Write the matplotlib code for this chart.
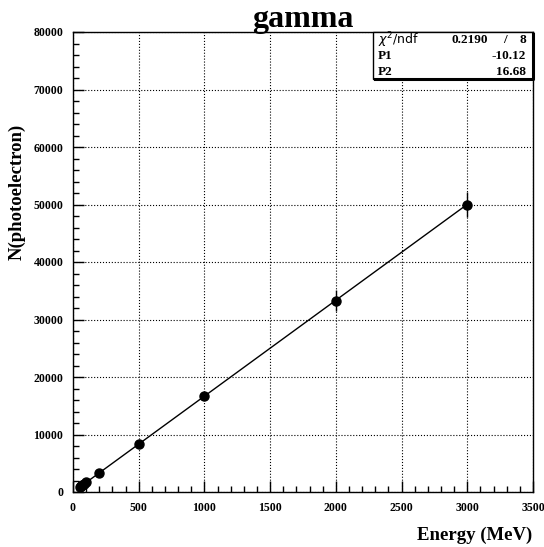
import matplotlib.pyplot as plt
import matplotlib.patches as patches
from matplotlib.ticker import MultipleLocator

# gamma response: energy (MeV) vs number of photoelectrons
energy = [50, 60, 70, 80, 100, 200, 500, 1000, 2000, 3000]
npe = [830, 990, 1160, 1330, 1660, 3330, 8330, 16680, 33300, 50000]
npe_err = [150, 160, 170, 180, 200, 260, 420, 700, 1800, 2250]

# fit result from the stats box
chi2, ndf = 0.2190, 8
p1, p2 = -10.12, 16.68

serif = "Liberation Serif"

fig = plt.figure(figsize=(5.44, 5.47), dpi=100)
ax = fig.add_axes([73 / 544, 1 - 492 / 547, 460 / 544, 460 / 547])

ax.grid(True, color="black", linestyle=":", linewidth=0.8)
ax.set_axisbelow(True)

ax.errorbar(energy, npe, yerr=npe_err, fmt="o", color="black", ms=6.5,
            elinewidth=1.0, capsize=0, zorder=3)
fit_x = [energy[0], energy[-1]]
fit_y = [p1 + p2 * e for e in fit_x]
ax.plot(fit_x, fit_y, color="black", linewidth=1.0, zorder=2)

ax.set_xlim(0, 3500)
ax.set_ylim(0, 80000)
ax.xaxis.set_major_locator(MultipleLocator(500))
ax.xaxis.set_minor_locator(MultipleLocator(100))
ax.yaxis.set_major_locator(MultipleLocator(10000))
ax.yaxis.set_minor_locator(MultipleLocator(2000))
ax.tick_params(which="both", direction="in", top=False, right=False)
ax.tick_params(which="major", length=8, width=1, pad=7)
ax.tick_params(which="minor", length=4, width=1)
for lbl in ax.get_xticklabels() + ax.get_yticklabels():
    lbl.set_fontfamily(serif)
    lbl.set_fontweight("bold")
    lbl.set_fontsize(8.5)
for sp in ax.spines.values():
    sp.set_linewidth(1.0)

fig.text(0.557, 1 - 27 / 547, "gamma", ha="center", va="baseline",
         fontsize=23, fontweight="bold", family=serif)
fig.text(532 / 544, 1 - 540 / 547, "Energy (MeV)", ha="right", va="baseline",
         fontsize=13.5, fontweight="bold", family=serif)
fig.text(22 / 544, 1 - 260 / 547, "N(photoelectron)", rotation=90,
         rotation_mode="anchor", ha="left", va="baseline",
         fontsize=13.5, fontweight="bold", family=serif)

# stats box
bx0, bx1 = (373 - 73) / 460, 1.0
by0, by1 = (492 - 79) / 460, 1.0
box = patches.Rectangle((bx0, by0), bx1 - bx0, by1 - by0, transform=ax.transAxes,
                        facecolor="white", edgecolor="black", linewidth=1.0,
                        zorder=5, clip_on=False)
ax.add_patch(box)
ax.plot([bx0 + 0.004, bx1, bx1], [by0, by0, by1 - 0.004], transform=ax.transAxes,
        color="black", linewidth=2.2, zorder=6, clip_on=False)

def row_y(py):
    return (492 - py) / 460

left_x = (378 - 73) / 460
right_x = (526 - 73) / 460
fs = 9.5
ax.text(left_x, row_y(40), r"$\chi^2$/ndf", transform=ax.transAxes, ha="left",
        va="center", fontsize=9, family="DejaVu Sans", zorder=7)
ax.text((488 - 73) / 460, row_y(40), f"{chi2:.4f}", transform=ax.transAxes,
        ha="right", va="center", fontsize=fs, fontweight="bold", family=serif, zorder=7)
ax.text((505 - 73) / 460, row_y(40), "/", transform=ax.transAxes,
        ha="center", va="center", fontsize=fs, fontweight="bold", family=serif, zorder=7)
ax.text(right_x, row_y(40), f"{ndf}", transform=ax.transAxes,
        ha="right", va="center", fontsize=fs, fontweight="bold", family=serif, zorder=7)
for name, val, py in [("P1", p1, 56), ("P2", p2, 72)]:
    ax.text(left_x, row_y(py), name, transform=ax.transAxes, ha="left",
            va="center", fontsize=fs, fontweight="bold", family=serif, zorder=7)
    ax.text(right_x, row_y(py), f"{val:.2f}", transform=ax.transAxes, ha="right",
            va="center", fontsize=fs, fontweight="bold", family=serif, zorder=7)

fig.savefig("out.png", dpi=100)
